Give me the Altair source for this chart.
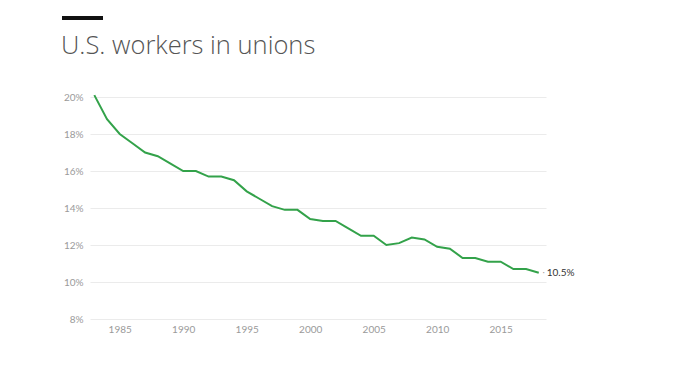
import altair as alt
import pandas as pd

years = list(range(1983, 2019))
rates = [20.1, 18.8, 18.0, 17.5, 17.0, 16.8, 16.4, 16.0, 16.0, 15.7, 15.7, 15.5,
         14.9, 14.5, 14.1, 13.9, 13.9, 13.4, 13.3, 13.3, 12.9, 12.5, 12.5, 12.0,
         12.1, 12.4, 12.3, 11.9, 11.8, 11.3, 11.3, 11.1, 11.1, 10.7, 10.7, 10.5]
x_ticks = [1985, 1990, 1995, 2000, 2005, 2010, 2015]
y_ticks = [8, 10, 12, 14, 16, 18, 20]
end_label = ["10.5%"]
title_text = "U.S. workers in unions"

df = pd.DataFrame({"year": years, "rate": rates})
df_end = pd.DataFrame({"year": [years[-1]], "rate": [rates[-1]], "label": end_label})

FONT = "Lato"

x_enc = alt.X("year:Q", scale=alt.Scale(domain=[1982.66, 2018.57], nice=False, zero=False),
              axis=alt.Axis(values=x_ticks, format="d", title=None, grid=False, domain=False,
                            ticks=False, labelColor="#9a9a9a", labelFontSize=10, labelFont=FONT,
                            labelPadding=5, labelOverlap=False))
y_enc = alt.Y("rate:Q", scale=alt.Scale(domain=[8, 20], nice=False, zero=False),
              axis=alt.Axis(values=y_ticks, labelExpr="datum.value + '%'", title=None,
                            grid=True, gridColor="#ebebeb", gridWidth=1, domain=False,
                            ticks=False, labelColor="#9a9a9a", labelFontSize=10,
                            labelFont=FONT, labelPadding=7, labelOverlap=False))

line = alt.Chart(df).mark_line(color="#33a24a", strokeWidth=2).encode(x=x_enc, y=y_enc)

dot = alt.Chart(df_end).mark_text(text="·", color="#999999", fontSize=10, dx=5, align="center",
                                   baseline="middle").encode(x=x_enc, y=y_enc)
label = alt.Chart(df_end).mark_text(align="left", baseline="middle", dx=8, fontSize=10,
                                    font=FONT, color="#333333").encode(
    x=x_enc, y=y_enc, text="label:N")

bar = alt.Chart(df_end).mark_rule(color="#111111", strokeWidth=4).encode(
    x=alt.value(-28), x2=alt.value(13), y=alt.value(-79))

title = alt.Chart(df_end).mark_text(align="left", baseline="alphabetic", fontSize=25.5,
                                    font="Open Sans", fontWeight=300, color="#555555").encode(
    x=alt.value(-29), y=alt.value(-43), text=alt.value(title_text))

chart = alt.layer(line, dot, label, bar, title).properties(
    width=456, height=222,
    background="white",
    autosize=alt.AutoSizeParams(type="none"),
    padding={"left": 82, "top": 89, "right": 124, "bottom": 54},
).configure_view(stroke=None)

chart.save("out.html", embed_options={"renderer": "svg", "actions": False})
